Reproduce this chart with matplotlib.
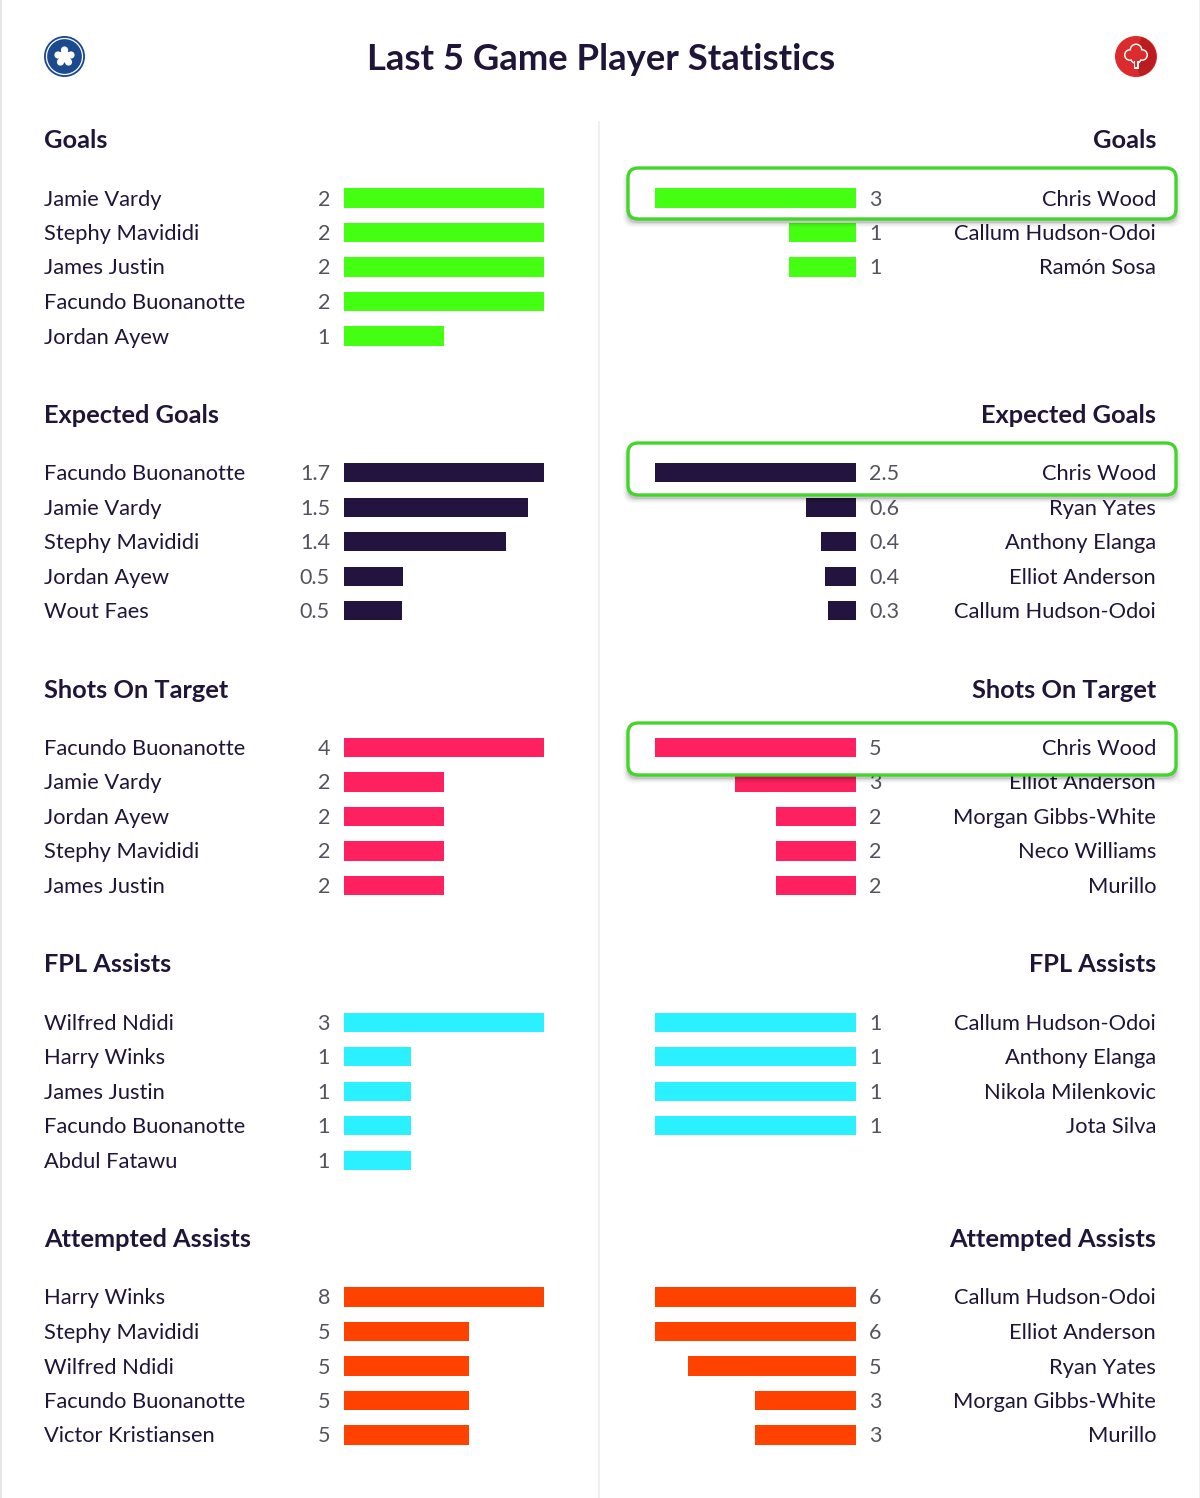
import matplotlib
matplotlib.use("Agg")
import matplotlib.pyplot as plt
from matplotlib.patches import Circle, Ellipse, FancyBboxPatch, Rectangle, Wedge

W, H = 1200, 1498

plt.rcParams['font.family'] = ['Lato', 'DejaVu Sans']

sections = ["Goals", "Expected Goals", "Shots On Target", "FPL Assists", "Attempted Assists"]
colors = ["#45ff12", "#22133f", "#ff2060", "#2af0ff", "#ff4200"]

# left team
goals_names_l = ["Jamie Vardy", "Stephy Mavididi", "James Justin", "Facundo Buonanotte", "Jordan Ayew"]
goals_vals_l = [2, 2, 2, 2, 1]
goals_labels_l = ["2", "2", "2", "2", "1"]

xg_names_l = ["Facundo Buonanotte", "Jamie Vardy", "Stephy Mavididi", "Jordan Ayew", "Wout Faes"]
xg_vals_l = [1.7, 1.56, 1.38, 0.5, 0.49]
xg_labels_l = ["1.7", "1.5", "1.4", "0.5", "0.5"]

sot_names_l = ["Facundo Buonanotte", "Jamie Vardy", "Jordan Ayew", "Stephy Mavididi", "James Justin"]
sot_vals_l = [4, 2, 2, 2, 2]
sot_labels_l = ["4", "2", "2", "2", "2"]

fpl_names_l = ["Wilfred Ndidi", "Harry Winks", "James Justin", "Facundo Buonanotte", "Abdul Fatawu"]
fpl_vals_l = [3, 1, 1, 1, 1]
fpl_labels_l = ["3", "1", "1", "1", "1"]

aa_names_l = ["Harry Winks", "Stephy Mavididi", "Wilfred Ndidi", "Facundo Buonanotte", "Victor Kristiansen"]
aa_vals_l = [8, 5, 5, 5, 5]
aa_labels_l = ["8", "5", "5", "5", "5"]

# right team
goals_names_r = ["Chris Wood", "Callum Hudson-Odoi", "Ramón Sosa"]
goals_vals_r = [3, 1, 1]
goals_labels_r = ["3", "1", "1"]

xg_names_r = ["Chris Wood", "Ryan Yates", "Anthony Elanga", "Elliot Anderson", "Callum Hudson-Odoi"]
xg_vals_r = [2.5, 0.62, 0.44, 0.39, 0.35]
xg_labels_r = ["2.5", "0.6", "0.4", "0.4", "0.3"]

sot_names_r = ["Chris Wood", "Elliot Anderson", "Morgan Gibbs-White", "Neco Williams", "Murillo"]
sot_vals_r = [5, 3, 2, 2, 2]
sot_labels_r = ["5", "3", "2", "2", "2"]

fpl_names_r = ["Callum Hudson-Odoi", "Anthony Elanga", "Nikola Milenkovic", "Jota Silva"]
fpl_vals_r = [1, 1, 1, 1]
fpl_labels_r = ["1", "1", "1", "1"]

aa_names_r = ["Callum Hudson-Odoi", "Elliot Anderson", "Ryan Yates", "Morgan Gibbs-White", "Murillo"]
aa_vals_r = [6, 6, 5, 3, 3]
aa_labels_r = ["6", "6", "5", "3", "3"]

left_data = [
    (goals_names_l, goals_vals_l, goals_labels_l),
    (xg_names_l, xg_vals_l, xg_labels_l),
    (sot_names_l, sot_vals_l, sot_labels_l),
    (fpl_names_l, fpl_vals_l, fpl_labels_l),
    (aa_names_l, aa_vals_l, aa_labels_l),
]
right_data = [
    (goals_names_r, goals_vals_r, goals_labels_r),
    (xg_names_r, xg_vals_r, xg_labels_r),
    (sot_names_r, sot_vals_r, sot_labels_r),
    (fpl_names_r, fpl_vals_r, fpl_labels_r),
    (aa_names_r, aa_vals_r, aa_labels_r),
]

TEXT = "#1f1538"
GREY = "#55525f"
ROW = 34.5
SECTION = 274.75
FIRST_ROW = 198
BOX_GREEN = "#42d62a"

# (top, bottom) of highlight box for each section that has one, in pixels
highlight = {0: (168, 219), 1: (443, 495), 2: (723, 775)}

fig = plt.figure(figsize=(W / 100, H / 100), dpi=100, facecolor="white")

bg = fig.add_axes([0, 0, 1, 1])
bg.set_xlim(0, W)
bg.set_ylim(H, 0)
bg.axis("off")


def px_axes(x0, x1, y0, y1):
    """Axes placed by pixel box, measured from the top left."""
    ax = fig.add_axes([x0 / W, 1 - y1 / H, (x1 - x0) / W, (y1 - y0) / H])
    ax.patch.set_alpha(0)
    ax.axis("off")
    return ax


def label(ax, text, i, dx, ha, color, size, z):
    ax.annotate(text, (0, i), xytext=(dx, 0.5), textcoords="offset pixels",
                ha=ha, va="center_baseline", color=color, fontsize=size,
                zorder=z, annotation_clip=False)


def draw_side(index, names, vals, labels, side):
    center = FIRST_ROW + index * SECTION
    top = center - ROW / 2
    if side == "left":
        ax = px_axes(344, 544, top, top + 5 * ROW)
        ax.set_xlim(0, max(vals))
    else:
        ax = px_axes(655, 856, top, top + 5 * ROW)
        ax.set_xlim(max(vals), 0)
    ax.set_ylim(4.5, -0.5)

    boxed = side == "right" and index in highlight
    if boxed:
        y0, y1 = highlight[index]
        # soft shadow below the box
        for grow, alpha in [(10, 0.03), (7, 0.05), (4, 0.07), (2, 0.09)]:
            ax.add_patch(FancyBboxPatch((628 - grow / 2, y0 + 3), 548 + grow, y1 - y0 + grow / 2,
                                        boxstyle="round,pad=0,rounding_size=10",
                                        transform=bg.transData, fc="black", ec="none",
                                        alpha=alpha, zorder=4, clip_on=False))
        ax.add_patch(FancyBboxPatch((628, y0), 548, y1 - y0,
                                    boxstyle="round,pad=0,rounding_size=10",
                                    transform=bg.transData, fc="white", ec=BOX_GREEN,
                                    lw=2.4, zorder=5, clip_on=False))

    for i, (name, val, lab) in enumerate(zip(names, vals, labels)):
        z = 6 if boxed and i == 0 else 2
        ax.barh(i, val, height=0.56, color=colors[index], zorder=z)
        if side == "left":
            label(ax, name, i, -300, "left", TEXT, 15.75, z)
            label(ax, lab, i, -14, "right", GREY, 15.5, z)
        else:
            label(ax, name, i, 300, "right", TEXT, 15.75, z)
            label(ax, lab, i, 13, "left", GREY, 15.5, z)


# page edges and centre divider
bg.add_patch(Rectangle((0, 0), 2, H, fc="#e6e6e6", ec="none"))
bg.add_patch(Rectangle((1198.5, 0), 1.5, H, fc="#f0f0f0", ec="none"))
bg.plot([599, 599], [122, H], color="#eeeeee", lw=1.2)

bg.text(601, 59, "Last 5 Game Player Statistics", ha="center", va="center",
        fontsize=26.3, fontweight="bold", color=TEXT)

# left badge
bg.add_patch(Circle((64.5, 56.5), 20.5, fc="#1c4a8e", ec="none"))
bg.add_patch(Circle((64.5, 56.5), 18, fc="none", ec="white", lw=0.9))
for px, py in [(64.5, 50), (71, 55), (68.5, 62), (60.5, 62), (58, 55)]:
    bg.add_patch(Circle((px, py), 3.6, fc="white", ec="none"))
bg.add_patch(Circle((64.5, 56.5), 6, fc="white", ec="none"))

# right badge
bg.add_patch(Ellipse((1136, 56.5), 36 + 6, 41, fc="#dc2b2c", ec="none"))
bg.add_patch(Wedge((1136, 56.5), 20, -75, 80, fc="#bb1c1e", ec="none"))
for px, py, r in [(1136, 50, 6.5), (1130, 55, 6), (1142, 55, 6), (1136, 58, 6)]:
    bg.add_patch(Circle((px, py), r, fc="white", ec="none"))
for px, py, r in [(1136, 50, 5), (1130, 55, 4.5), (1142, 55, 4.5), (1136, 58, 4.5)]:
    bg.add_patch(Circle((px, py), r, fc="#dc2b2c", ec="none"))
bg.add_patch(Rectangle((1133.5, 61), 5, 8, fc="white", ec="none"))
bg.add_patch(Rectangle((1135, 60), 2, 7, fc="#dc2b2c", ec="none"))

for index, section in enumerate(sections):
    y = 140.5 + index * SECTION
    bg.text(44, y, section, ha="left", va="center", fontsize=18.3, fontweight="bold", color=TEXT)
    bg.text(1156, y, section, ha="right", va="center", fontsize=18.3, fontweight="bold", color=TEXT)
    draw_side(index, *left_data[index], "left")
    draw_side(index, *right_data[index], "right")

fig.savefig("out.png", dpi=100, facecolor="white")
